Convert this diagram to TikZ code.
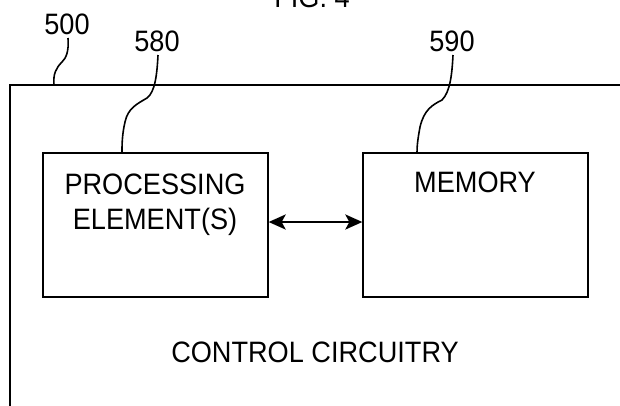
\documentclass[tikz,border=0pt]{standalone}
\usepackage{fontspec}
\setmainfont{Liberation Sans}[FakeStretch=0.92]
\usetikzlibrary{arrows.meta}
\begin{document}
\begin{tikzpicture}[x=1pt,y=-1pt,
  lbl/.style={font=\fontsize{29.5}{32}\selectfont, inner sep=0pt, anchor=base},
  blk/.style={draw, line width=1.3pt, minimum width=225pt, minimum height=144pt, inner sep=0pt},
  lead/.style={line width=1.6pt},
  biarrow/.style={line width=2.4pt, {Stealth[length=17pt,width=15pt,inset=4pt]}-{Stealth[length=17pt,width=15pt,inset=4pt]}}]
\useasboundingbox (0,0) rectangle (620,405);
\clip (0,0) rectangle (620,405);
\fill[white] (0,0) rectangle (620,405);
% outer box
\draw[line width=1.3pt] (640,85) -- (10,85) -- (10,430);
\coordinate (outtop) at (54,85);
% blocks
\node[blk] (pe) at (155.5,225) {};
\node[blk] (mem) at (475.5,225) {};
\node[lbl] (pet1) at (155,194) {PROCESSING};
\node[lbl] (pet2) at (155,229) {ELEMENT(S)};
\node[lbl] (memt) at (475,192) {MEMORY};
\node[lbl] (cc) at (315,362) {CONTROL CIRCUITRY};
\node[lbl] (fig) at (312,7) {FIG. 4};
% reference numerals
\node[lbl] (n500) at (67,34) {500};
\node[lbl] (n580) at (157,51) {580};
\node[lbl] (n590) at (452,51) {590};
% leader lines
\coordinate (s500) at (68,38);
\coordinate (s580) at (158,55);
\coordinate (s590) at (453,55);
\draw[lead] (s500) .. controls (69,52) and (66,58) .. (62,62)
  .. controls (56,68) and (53,74) .. (outtop);
\draw[lead] (s580) .. controls (157,75) and (155,92) .. (147,98)
  .. controls (137,104) and (128,108) .. (125,122)
  .. controls (122,135) and (122,145) .. (pe.north west -| 122,0);
\draw[lead] (s590) .. controls (452,75) and (450,92) .. (442,100)
  .. controls (432,105) and (424,110) .. (420,127)
  .. controls (418,138) and (417,145) .. (mem.north west -| 417,0);
% arrow
\draw[biarrow] (pe.east |- 0,222) -- (mem.west |- 0,222);
\end{tikzpicture}
\end{document}
